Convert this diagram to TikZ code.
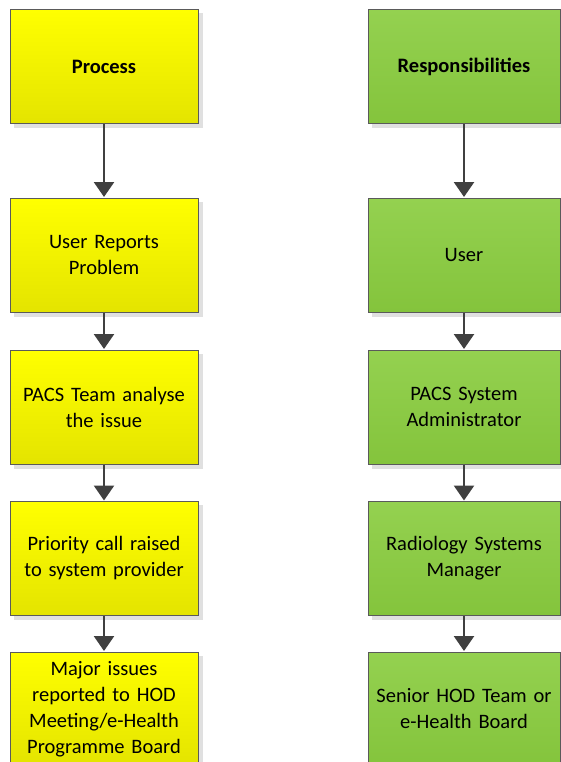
\documentclass[tikz,border=0pt]{standalone}
\usepackage{fontspec}
\setmainfont{Carlito}
\usepackage{xcolor}
\usepackage{tikz}
\usetikzlibrary{arrows.meta,backgrounds}
\definecolor{lineGrey}{HTML}{5A5A5A}
\definecolor{arrowGrey}{HTML}{404040}
\definecolor{shadowGrey}{HTML}{E0E0E0}
\definecolor{yelTop}{HTML}{FFFF00}
\definecolor{yelBot}{HTML}{E4E400}
\definecolor{grnTop}{HTML}{94D150}
\definecolor{grnBot}{HTML}{84C43C}
\tikzset{
  box/.style={draw=lineGrey, line width=1pt, minimum height=114pt, inner sep=0pt,
    align=center, font=\fontsize{20.5}{26}\selectfont},
  procBox/.style={box, minimum width=188pt, text width=184pt, top color=yelTop, bottom color=yelBot},
  respBox/.style={box, minimum width=192pt, text width=188pt, top color=grnTop, bottom color=grnBot},
  flow/.style={draw=arrowGrey, line width=2.6pt, -{Triangle[length=15pt,width=20pt]}, shorten >=0.5pt}
}

\begin{document}
\begin{tikzpicture}[x=1pt,y=-1pt]
\useasboundingbox (0,0) rectangle (560,762);
% process column
\node[procBox] (p0) at (104,67) {\bfseries Process};
\node[procBox] (p1) at (104,255) {User Reports\\Problem};
\node[procBox] (p2) at (104,407) {PACS Team analyse\\the issue};
\node[procBox] (p3) at (104,558.5) {Priority call raised\\to system provider};
\node[procBox] (p4) at (104,709) {Major issues\\reported to HOD\\Meeting/e-Health\\Programme Board};
% responsibilities column
\node[respBox] (r0) at (464,67) {\bfseries Responsibilities};
\node[respBox] (r1) at (464,255) {User};
\node[respBox] (r2) at (464,407) {PACS System\\Administrator};
\node[respBox] (r3) at (464,558.5) {Radiology Systems\\Manager};
\node[respBox] (r4) at (464,709) {Senior HOD Team or\\e-Health Board};
% shadows behind the boxes
\begin{scope}[on background layer]
  \foreach \n in {p0,p1,p2,p3,p4,r0,r1,r2,r3,r4}
    \fill[shadowGrey] ([shift={(4,4)}]\n.north west) rectangle ([shift={(4,4)}]\n.south east);
\end{scope}
\foreach \a/\b in {p0/p1,p1/p2,p2/p3,p3/p4,r0/r1,r1/r2,r2/r3,r3/r4}
  \draw[flow] (\a.south) -- (\b.north);
\end{tikzpicture}
\end{document}
